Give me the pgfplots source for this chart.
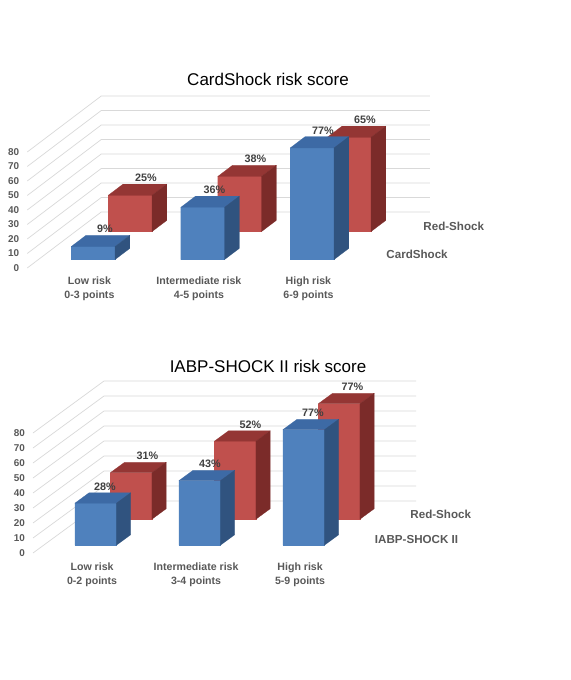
\documentclass[border=0pt]{standalone}
\usepackage{fontspec}
\setmainfont{Liberation Sans}
\usepackage{pgfplots}
\pgfplotsset{compat=1.18}

\definecolor{blueF}{HTML}{4F81BD}
\definecolor{blueT}{HTML}{3D6AA5}
\definecolor{blueS}{HTML}{30537F}
\definecolor{redF}{HTML}{C0504D}
\definecolor{redT}{HTML}{943634}
\definecolor{redS}{HTML}{7B2B29}
\definecolor{gridc}{HTML}{D9D9D9}
\definecolor{labc}{HTML}{595959}
\definecolor{datc}{HTML}{404040}

% #1 xlo #2 xhi #3 ylo #4 yhi #5 value #6 front #7 top #8 side
\newcommand{\cuboid}[8]{%
  \addplot3[fill=#6, draw=#6, line width=0.2pt] coordinates {(#1,#3,0) (#2,#3,0) (#2,#3,#5) (#1,#3,#5) (#1,#3,0)};
  \addplot3[fill=#7, draw=#7, line width=0.2pt] coordinates {(#1,#3,#5) (#2,#3,#5) (#2,#4,#5) (#1,#4,#5) (#1,#3,#5)};
  \addplot3[fill=#8, draw=#8, line width=0.2pt] coordinates {(#2,#3,0) (#2,#4,0) (#2,#4,#5) (#2,#3,#5) (#2,#3,0)};
}
\newcommand{\gridwalls}{%
  \pgfplotsinvokeforeach{0,10,...,80}{%
    \addplot3[gridc, line width=0.7pt] coordinates {(-0.5,0,##1) (-0.5,2,##1) (2.5,2,##1)};
    \node[anchor=east, inner sep=0pt, xshift=-8bp, text=labc, font=\bfseries\fontsize{9.9bp}{11bp}\selectfont] at (axis cs:-0.5,0,##1) {##1};
  }%
}
\tikzset{
  datlab/.style={anchor=base, inner sep=0pt, yshift=2.5bp, text=datc, font=\bfseries\fontsize{10.8bp}{12bp}\selectfont},
  catlab/.style={anchor=north, inner sep=0pt, align=center, text=labc, font=\bfseries\fontsize{10.6bp}{13.5bp}\selectfont},
  serlab/.style={anchor=west, inner sep=0pt, xshift=12bp, text=labc, font=\bfseries\fontsize{11.6bp}{13bp}\selectfont},
  titlab/.style={inner sep=0pt, font=\fontsize{17bp}{20bp}\selectfont}
}

\begin{document}
\begin{tikzpicture}
\path[use as bounding box] (0,0) rectangle (571bp,680bp);
\fill[white] (0,0) rectangle (571bp,680bp);

% ---------------- top chart ----------------
\node[titlab] at (268bp,601bp) {CardShock risk score};
\begin{axis}[
  hide axis, clip=false,
  x={(109.5bp,0bp)}, y={(37bp,28bp)}, z={(0bp,1.45bp)},
  xmin=-0.5, xmax=2.5, ymin=0, ymax=2, zmin=0, zmax=80,
  anchor=origin, at={(82bp,412bp)},
  every axis plot/.append style={no markers}
]
\gridwalls
% Red-Shock (back row)
\cuboid{-0.2}{0.2}{1.3}{1.7}{25}{redF}{redT}{redS}
\cuboid{0.8}{1.2}{1.3}{1.7}{38}{redF}{redT}{redS}
\cuboid{1.8}{2.2}{1.3}{1.7}{65}{redF}{redT}{redS}
% CardShock (front row)
\cuboid{-0.2}{0.2}{0.3}{0.7}{9}{blueF}{blueT}{blueS}
\cuboid{0.8}{1.2}{0.3}{0.7}{36}{blueF}{blueT}{blueS}
\cuboid{1.8}{2.2}{0.3}{0.7}{77}{blueF}{blueT}{blueS}
% data labels
\node[datlab, xshift=1bp] at (axis cs:0,1.7,25) {25\%};
\node[datlab, xshift=1bp] at (axis cs:1,1.7,38) {38\%};
\node[datlab, xshift=1bp] at (axis cs:2,1.7,65) {65\%};
\node[datlab, xshift=-3bp] at (axis cs:0,0.7,9) {9\%};
\node[datlab, xshift=-3bp] at (axis cs:1,0.7,36) {36\%};
\node[datlab, xshift=-4bp] at (axis cs:2,0.7,77) {77\%};
% category labels
\node[catlab, yshift=-14.6bp] at (axis cs:0,0.2,0) {Low risk\\0-3 points};
\node[catlab, yshift=-14.6bp] at (axis cs:1,0.2,0) {Intermediate risk\\4-5 points};
\node[catlab, yshift=-14.6bp] at (axis cs:2,0.2,0) {High risk\\6-9 points};
% series labels
\node[serlab] at (axis cs:2.5,1.5,0) {Red-Shock};
\node[serlab] at (axis cs:2.5,0.5,0) {CardShock};
\end{axis}

% ---------------- bottom chart ----------------
\node[titlab] at (268bp,314bp) {IABP-SHOCK II risk score};
\begin{axis}[
  hide axis, clip=false,
  x={(104bp,0bp)}, y={(35.5bp,26bp)}, z={(0bp,1.5bp)},
  xmin=-0.5, xmax=2.5, ymin=0, ymax=2, zmin=0, zmax=80,
  anchor=origin, at={(85bp,127bp)},
  every axis plot/.append style={no markers}
]
\gridwalls
% Red-Shock (back row)
\cuboid{-0.2}{0.2}{1.3}{1.7}{31}{redF}{redT}{redS}
\cuboid{0.8}{1.2}{1.3}{1.7}{52}{redF}{redT}{redS}
\cuboid{1.8}{2.2}{1.3}{1.7}{77}{redF}{redT}{redS}
% IABP-SHOCK II (front row)
\cuboid{-0.2}{0.2}{0.3}{0.7}{28}{blueF}{blueT}{blueS}
\cuboid{0.8}{1.2}{0.3}{0.7}{43}{blueF}{blueT}{blueS}
\cuboid{1.8}{2.2}{0.3}{0.7}{77}{blueF}{blueT}{blueS}
% data labels
\node[datlab, xshift=2bp] at (axis cs:0,1.7,31) {31\%};
\node[datlab, xshift=1bp] at (axis cs:1,1.7,52) {52\%};
\node[datlab, xshift=-1bp] at (axis cs:2,1.7,77) {77\%};
\node[datlab, xshift=-5bp] at (axis cs:0,0.7,28) {28\%};
\node[datlab, xshift=-4bp] at (axis cs:1,0.7,43) {43\%};
\node[datlab, xshift=-5bp] at (axis cs:2,0.7,77) {77\%};
% category labels
\node[catlab, yshift=-15.3bp] at (axis cs:0,0.2,0) {Low risk\\0-2 points};
\node[catlab, yshift=-15.3bp] at (axis cs:1,0.2,0) {Intermediate risk\\3-4 points};
\node[catlab, yshift=-15.3bp] at (axis cs:2,0.2,0) {High risk\\5-9 points};
% series labels
\node[serlab] at (axis cs:2.5,1.5,0) {Red-Shock};
\node[serlab] at (axis cs:2.5,0.5,0) {IABP-SHOCK II};
\end{axis}
\end{tikzpicture}
\end{document}
